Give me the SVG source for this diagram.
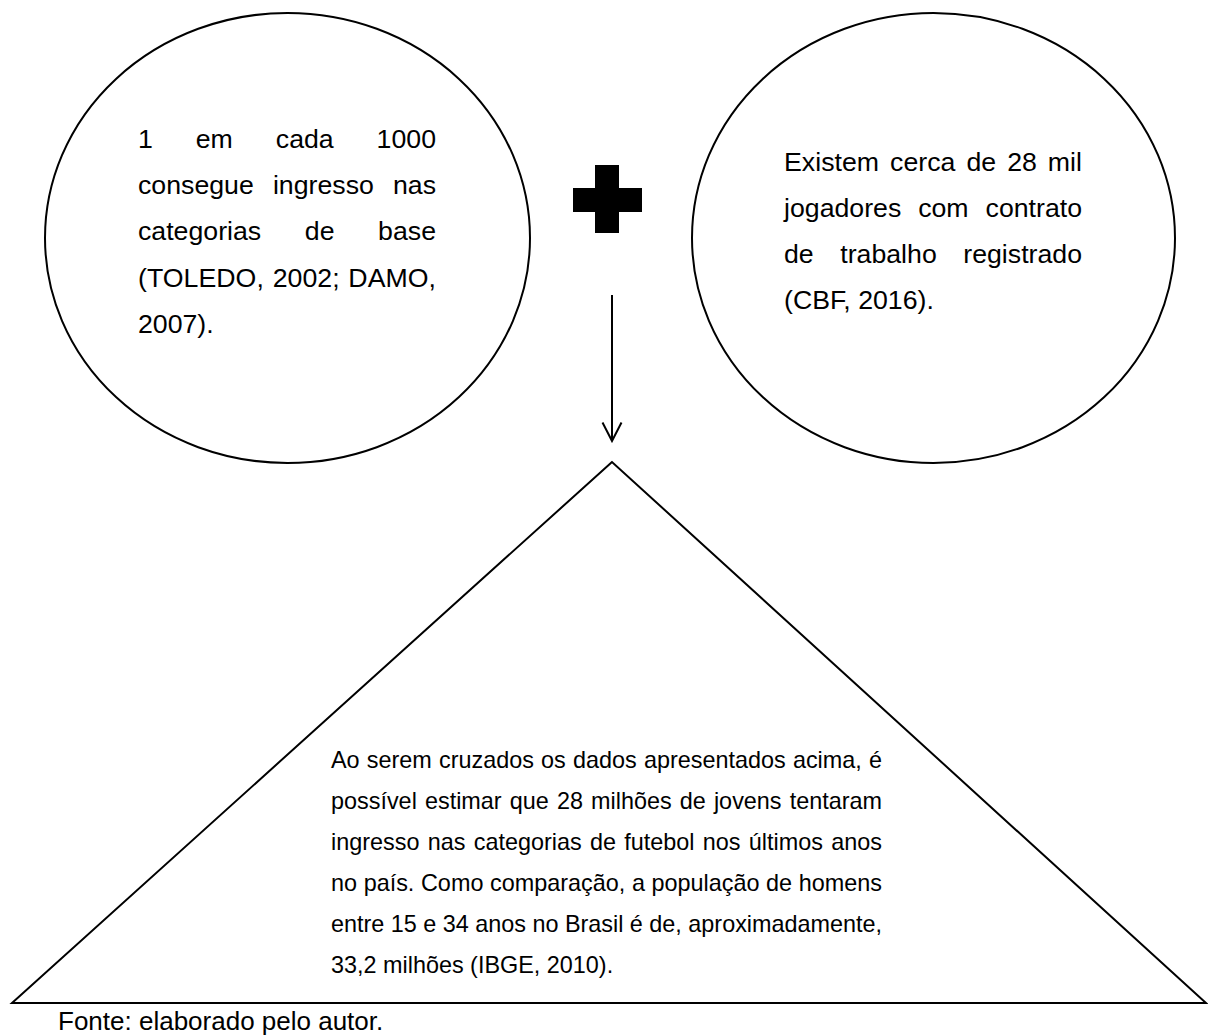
<svg xmlns="http://www.w3.org/2000/svg" width="1208" height="1036" viewBox="0 0 1208 1036">
<style>
.shape{fill:none;stroke:#000;stroke-width:2}
.t{font-family:"Liberation Sans",Arial,sans-serif;fill:#000}
.big{font-size:26.7px}
.mid{font-size:23.4px}
.src{font-size:26px}
</style>
<defs>
<marker id="vhead" viewBox="-20 -11 22 22" refX="0" refY="0" markerWidth="22" markerHeight="22" markerUnits="userSpaceOnUse" orient="auto">
<path d="M -18.5 -9.5 L 0 0 L -18.5 9.5" fill="none" stroke="#000" stroke-width="2"/>
</marker>
</defs>
<rect width="1208" height="1036" fill="#fff"/>
<g id="node-left">
<ellipse class="shape" cx="287.5" cy="238" rx="242.5" ry="225"/>
<text class="t big" x="138" y="148" word-spacing="35.5" textLength="298" lengthAdjust="spacing">1 em cada 1000</text>
<text class="t big" x="138" y="194" word-spacing="11.7" textLength="298" lengthAdjust="spacing">consegue ingresso nas</text>
<text class="t big" x="138" y="240" word-spacing="36.2" textLength="298" lengthAdjust="spacing">categorias de base</text>
<text class="t big" x="138" y="287" word-spacing="1.3" textLength="298" lengthAdjust="spacing">(TOLEDO, 2002; DAMO,</text>
<text class="t big" x="138" y="333">2007).</text>
</g>
<g id="node-plus">
<path d="M595 165 H619 V188 H642 V212 H619 V233 H595 V212 H573 V188 H595 Z" fill="#000"/>
</g>
<g id="node-right">
<ellipse class="shape" cx="933.5" cy="238" rx="241.5" ry="225"/>
<text class="t big" x="784" y="171" word-spacing="3.6" textLength="298" lengthAdjust="spacing">Existem cerca de 28 mil</text>
<text class="t big" x="784" y="217" word-spacing="9.5" textLength="298" lengthAdjust="spacing">jogadores com contrato</text>
<text class="t big" x="784" y="263" word-spacing="19.1" textLength="298" lengthAdjust="spacing">de trabalho registrado</text>
<text class="t big" x="784" y="309">(CBF, 2016).</text>
</g>
<g id="connectors">
<line x1="612" y1="295" x2="612" y2="441" stroke="#000" stroke-width="2" marker-end="url(#vhead)"/>
</g>
<g id="node-triangle">
<polygon class="shape" points="612,462 12,1003 1206,1003" stroke-linejoin="miter"/>
<text class="t mid" x="331" y="768" word-spacing="0.7" textLength="551" lengthAdjust="spacing">Ao serem cruzados os dados apresentados acima, é</text>
<text class="t mid" x="331" y="809" word-spacing="1.6" textLength="551" lengthAdjust="spacing">possível estimar que 28 milhões de jovens tentaram</text>
<text class="t mid" x="331" y="850" word-spacing="1.8" textLength="551" lengthAdjust="spacing">ingresso nas categorias de futebol nos últimos anos</text>
<text class="t mid" x="331" y="891" word-spacing="0.1" textLength="551" lengthAdjust="spacing">no país. Como comparação, a população de homens</text>
<text class="t mid" x="331" y="932" textLength="551" lengthAdjust="spacing">entre 15 e 34 anos no Brasil é de, aproximadamente,</text>
<text class="t mid" x="331" y="973">33,2 milhões (IBGE, 2010).</text>
</g>
<text id="source" class="t src" x="58" y="1030">Fonte: elaborado pelo autor.</text>
</svg>
